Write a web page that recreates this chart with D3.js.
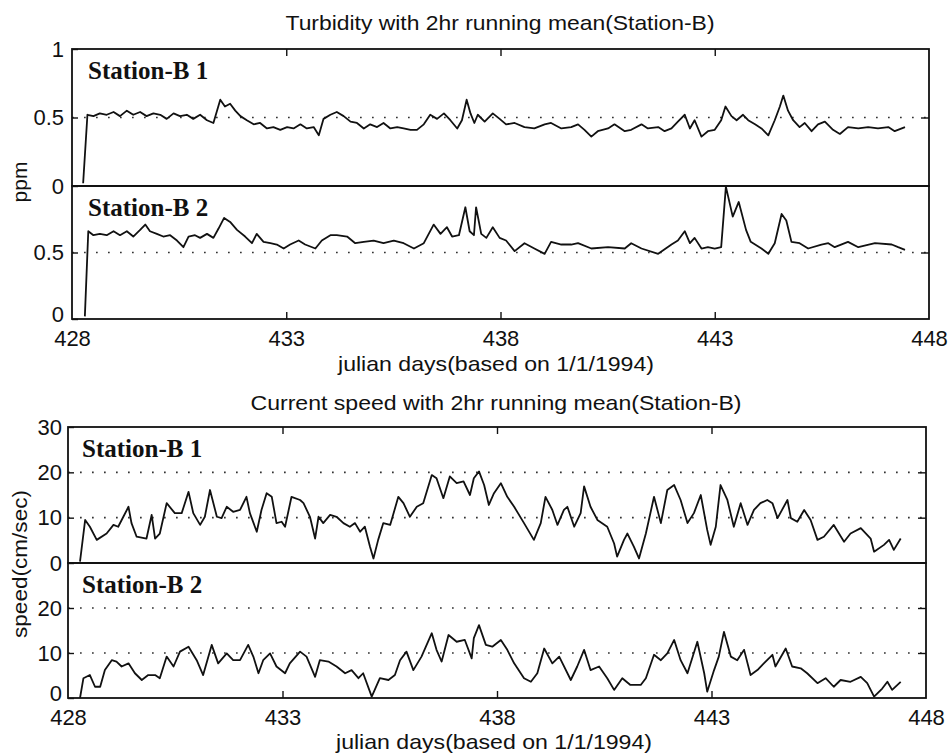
<!DOCTYPE html>
<html>
<head>
<meta charset="utf-8">
<script src="https://cdn.jsdelivr.net/npm/d3@7/dist/d3.min.js"></script>
<style>
  html, body { margin: 0; padding: 0; background: #fff; }
  svg { display: block; }
  .tick text { font-family: "Liberation Sans", Arial, sans-serif; fill: #111; }
</style>
</head>
<body>
<svg id="chart" width="948" height="754"></svg>
<script>
// Julian day axis (based on 1/1/1994)
const dayTicks = [428, 433, 438, 443, 448];
const turbTicks = [0, 0.5, 1];
const turbGrid = [0.5];
const speedTicks = [0, 10, 20, 30];
const speedGrid = [10, 20];

// Turbidity, 2 hr running mean [julian day, ppm]
const turbB1 = [
  [428.26,0.02],[428.36,0.52],[428.50,0.51],[428.65,0.53],[428.81,0.52],[428.97,0.54],[429.12,0.51],
  [429.28,0.55],[429.43,0.52],[429.59,0.54],[429.74,0.51],[429.90,0.53],[430.06,0.52],[430.21,0.49],
  [430.37,0.53],[430.52,0.51],[430.68,0.52],[430.83,0.49],[430.99,0.52],[431.15,0.48],[431.30,0.46],
  [431.46,0.63],[431.57,0.58],[431.69,0.60],[431.81,0.55],[431.93,0.51],[432.08,0.48],[432.24,0.45],
  [432.39,0.46],[432.55,0.42],[432.70,0.43],[432.86,0.41],[433.02,0.43],[433.17,0.42],[433.33,0.45],
  [433.48,0.42],[433.64,0.43],[433.76,0.37],[433.87,0.49],[434.03,0.52],[434.18,0.54],[434.34,0.51],
  [434.50,0.47],[434.65,0.46],[434.81,0.42],[434.96,0.45],[435.12,0.43],[435.27,0.46],[435.43,0.42],
  [435.59,0.43],[435.74,0.42],[435.90,0.41],[436.05,0.41],[436.21,0.45],[436.36,0.52],[436.52,0.49],
  [436.68,0.53],[436.83,0.48],[436.99,0.42],[437.10,0.48],[437.21,0.63],[437.30,0.53],[437.39,0.46],
  [437.47,0.52],[437.63,0.47],[437.82,0.53],[437.98,0.49],[438.13,0.45],[438.33,0.46],[438.56,0.43],
  [438.79,0.42],[439.03,0.45],[439.18,0.46],[439.42,0.42],[439.65,0.43],[439.81,0.45],[439.96,0.41],
  [440.12,0.36],[440.27,0.40],[440.51,0.42],[440.66,0.45],[440.90,0.40],[441.05,0.41],[441.29,0.45],
  [441.44,0.42],[441.68,0.43],[441.83,0.40],[441.99,0.42],[442.14,0.47],[442.30,0.52],[442.42,0.42],
  [442.53,0.48],[442.69,0.36],[442.84,0.40],[443.00,0.41],[443.15,0.48],[443.25,0.58],[443.39,0.51],
  [443.51,0.48],[443.66,0.52],[443.78,0.48],[443.94,0.45],[444.09,0.42],[444.25,0.37],[444.40,0.48],
  [444.52,0.58],[444.60,0.66],[444.71,0.55],[444.83,0.48],[444.98,0.43],[445.10,0.46],[445.26,0.40],
  [445.41,0.45],[445.57,0.47],[445.76,0.41],[445.92,0.38],[446.11,0.43],[446.35,0.42],[446.58,0.43],
  [446.81,0.42],[447.05,0.43],[447.20,0.40],[447.44,0.43]
];
const turbB2 = [
  [428.30,0.02],[428.38,0.66],[428.50,0.63],[428.65,0.64],[428.81,0.63],[428.97,0.66],[429.12,0.63],
  [429.28,0.66],[429.43,0.62],[429.59,0.67],[429.71,0.71],[429.82,0.66],[429.98,0.64],[430.13,0.62],
  [430.29,0.63],[430.45,0.59],[430.60,0.54],[430.72,0.62],[430.87,0.63],[430.99,0.61],[431.15,0.64],
  [431.30,0.61],[431.42,0.68],[431.55,0.76],[431.69,0.73],[431.85,0.67],[432.04,0.62],[432.20,0.57],
  [432.31,0.64],[432.47,0.58],[432.63,0.57],[432.78,0.56],[432.94,0.53],[433.09,0.56],[433.29,0.59],
  [433.44,0.56],[433.68,0.53],[433.83,0.59],[434.03,0.63],[434.18,0.63],[434.42,0.62],[434.61,0.57],
  [434.81,0.58],[435.04,0.59],[435.27,0.57],[435.51,0.59],[435.74,0.57],[435.98,0.53],[436.21,0.57],
  [436.44,0.71],[436.60,0.64],[436.75,0.69],[436.87,0.62],[437.03,0.63],[437.18,0.84],[437.28,0.66],
  [437.38,0.63],[437.43,0.84],[437.55,0.64],[437.67,0.61],[437.82,0.69],[437.98,0.61],[438.13,0.59],
  [438.33,0.51],[438.56,0.57],[438.79,0.53],[439.03,0.49],[439.18,0.58],[439.42,0.56],[439.65,0.56],
  [439.81,0.57],[440.12,0.53],[440.51,0.54],[440.90,0.53],[441.05,0.57],[441.29,0.53],[441.68,0.49],
  [441.99,0.56],[442.14,0.59],[442.30,0.66],[442.42,0.57],[442.53,0.61],[442.69,0.53],[442.84,0.54],
  [443.00,0.53],[443.15,0.54],[443.26,0.995],[443.42,0.77],[443.56,0.88],[443.73,0.67],[443.84,0.58],
  [444.09,0.53],[444.25,0.49],[444.40,0.57],[444.56,0.79],[444.67,0.74],[444.79,0.58],[444.98,0.57],
  [445.18,0.53],[445.49,0.56],[445.65,0.57],[445.80,0.54],[446.11,0.58],[446.35,0.54],[446.74,0.57],
  [447.13,0.56],[447.28,0.54],[447.44,0.52]
];

// Current speed, 2 hr running mean [julian day, cm/sec]
const speedB1 = [
  [428.28,0.3],[428.40,9.5],[428.51,8.0],[428.67,5.1],[428.90,6.5],[429.06,8.4],[429.17,8.0],
  [429.29,10.2],[429.41,12.4],[429.48,8.8],[429.60,5.8],[429.83,5.4],[429.95,10.6],[430.03,5.4],
  [430.14,6.5],[430.30,13.2],[430.49,11.0],[430.65,11.0],[430.81,15.7],[430.92,11.0],[431.08,8.4],
  [431.19,10.2],[431.31,16.1],[431.47,10.2],[431.58,9.9],[431.70,12.4],[431.85,11.3],[432.01,11.7],
  [432.16,14.6],[432.24,11.0],[432.40,6.9],[432.51,11.7],[432.63,15.4],[432.75,14.6],[432.86,8.8],
  [432.98,9.1],[433.06,8.0],[433.21,14.6],[433.41,13.9],[433.49,13.2],[433.64,10.2],[433.76,5.4],
  [433.84,10.2],[433.95,8.8],[434.11,10.6],[434.26,10.2],[434.42,8.8],[434.57,8.0],[434.69,8.8],
  [434.81,6.9],[434.92,8.0],[435.04,3.6],[435.12,1.0],[435.23,5.1],[435.35,8.8],[435.51,8.4],
  [435.70,14.6],[435.82,13.2],[435.97,10.2],[436.13,12.4],[436.28,13.2],[436.48,19.4],[436.59,18.7],
  [436.75,14.3],[436.90,19.1],[437.06,17.6],[437.22,18.0],[437.37,15.0],[437.46,18.7],[437.58,20.2],
  [437.70,17.2],[437.81,12.8],[437.93,15.4],[438.09,17.6],[438.24,14.6],[438.40,12.4],[438.63,8.8],
  [438.86,5.1],[439.02,8.8],[439.13,14.6],[439.29,11.7],[439.41,8.4],[439.56,11.7],[439.64,12.4],
  [439.80,8.0],[439.95,11.0],[440.03,16.9],[440.18,12.4],[440.34,9.5],[440.57,8.0],[440.73,4.3],
  [440.80,1.4],[440.96,5.1],[441.04,6.5],[441.19,3.6],[441.31,1.0],[441.47,6.5],[441.66,14.6],
  [441.82,8.8],[441.97,16.1],[442.13,17.2],[442.28,13.9],[442.44,8.8],[442.59,11.0],[442.75,15.0],
  [442.90,7.3],[442.98,4.0],[443.10,8.0],[443.21,17.2],[443.37,13.9],[443.52,8.0],[443.68,13.2],
  [443.84,8.4],[443.99,11.7],[444.14,13.2],[444.30,13.9],[444.42,13.2],[444.54,9.9],[444.77,13.9],
  [444.85,9.9],[445.00,9.1],[445.16,11.7],[445.31,9.5],[445.47,5.1],[445.62,5.8],[445.85,8.4],
  [446.09,4.7],[446.24,6.5],[446.48,7.7],[446.71,5.4],[446.79,2.5],[447.02,4.0],[447.14,5.1],
  [447.25,2.9],[447.41,5.4]
];
const speedB2 = [
  [428.28,0.0],[428.36,4.4],[428.51,5.1],[428.63,2.5],[428.75,2.5],[428.86,6.2],[429.02,8.4],
  [429.13,8.1],[429.25,7.0],[429.41,7.7],[429.56,5.5],[429.72,4.0],[429.87,5.1],[430.03,5.1],
  [430.14,4.4],[430.30,9.2],[430.46,7.0],[430.61,10.3],[430.81,11.4],[431.00,8.4],[431.15,5.1],
  [431.35,11.8],[431.50,7.7],[431.70,9.9],[431.85,8.4],[432.01,8.4],[432.20,11.8],[432.32,9.2],
  [432.44,5.5],[432.55,8.4],[432.71,9.9],[432.86,7.0],[433.06,5.5],[433.17,7.7],[433.41,10.3],
  [433.56,9.2],[433.76,4.7],[433.87,8.4],[434.07,8.1],[434.26,7.0],[434.46,5.5],[434.61,6.2],
  [434.77,4.4],[434.88,5.5],[435.08,0.3],[435.27,4.4],[435.47,4.0],[435.62,5.1],[435.74,8.4],
  [435.89,10.3],[436.05,6.2],[436.24,9.2],[436.48,14.4],[436.59,10.7],[436.71,8.1],[436.87,14.0],
  [437.06,12.5],[437.25,12.9],[437.41,8.8],[437.46,13.3],[437.58,16.2],[437.74,11.8],[437.89,11.4],
  [438.09,12.9],[438.24,10.7],[438.40,7.7],[438.63,4.4],[438.79,3.6],[438.94,5.5],[439.10,11.0],
  [439.29,7.7],[439.45,9.2],[439.72,4.0],[439.87,7.0],[440.03,10.7],[440.18,6.2],[440.38,7.0],
  [440.57,4.4],[440.73,1.8],[440.92,4.4],[441.11,2.9],[441.35,2.9],[441.47,4.4],[441.66,9.6],
  [441.82,8.4],[441.97,9.9],[442.13,12.9],[442.28,8.4],[442.44,5.5],[442.67,12.5],[442.83,5.5],
  [442.90,1.4],[443.06,6.2],[443.17,9.2],[443.29,14.7],[443.45,9.2],[443.60,8.4],[443.76,10.7],
  [443.91,5.1],[444.07,6.2],[444.22,7.7],[444.42,9.6],[444.49,7.0],[444.73,11.0],[444.88,7.0],
  [445.08,6.6],[445.23,5.5],[445.47,3.3],[445.66,4.4],[445.85,2.5],[446.01,4.0],[446.24,3.6],
  [446.48,4.7],[446.63,3.3],[446.79,0.3],[446.98,2.1],[447.10,3.6],[447.21,1.8],[447.41,3.6]
];

const SANS = '"Liberation Sans", Arial, Helvetica, sans-serif';
const SERIF = '"Liberation Serif", "Times New Roman", serif';
const INK = "#111";

const svg = d3.select("#chart");

// Plain text helper; an optional width stretches the glyphs to fill it
function label(sel, txt, opts) {
  const t = sel.append("text")
    .attr("text-anchor", "middle").attr("font-family", SANS)
    .attr("font-size", opts.size).attr("fill", INK)
    .attr("transform", opts.transform)
    .text(txt);
  if (opts.width) t.attr("textLength", opts.width).attr("lengthAdjust", "spacingAndGlyphs");
  return t;
}

// One stacked figure: two panels sharing the day axis
function drawFigure(cfg) {
  const x = d3.scaleLinear().domain([428, 448]).range([cfg.left, cfg.right]);
  const g = svg.append("g");

  cfg.panels.forEach((p, i) => {
    const y = d3.scaleLinear().domain(cfg.yDomain).range([p.bottom, p.top]);
    const pg = g.append("g");

    // dotted reference lines
    pg.selectAll("line.grid").data(cfg.grid).join("line")
      .attr("x1", cfg.left).attr("x2", cfg.right)
      .attr("y1", d => y(d)).attr("y2", d => y(d))
      .attr("stroke", "#333").attr("stroke-width", 1.7)
      .attr("stroke-dasharray", "1.7 10.3")
      .attr("stroke-linecap", "butt");

    // left axis: inward ticks + labels
    const la = pg.append("g").attr("transform", `translate(${cfg.left},0)`)
      .call(d3.axisLeft(y).tickValues(p.labels).tickSize(-6).tickPadding(cfg.yPad)
        .tickFormat(d => d3.format("")(d)));
    la.select(".domain").remove();
    la.selectAll(".tick line").attr("stroke", INK).attr("stroke-width", 1.4);
    la.selectAll(".tick text").attr("font-size", cfg.fontSize).attr("fill", INK)
      .attr("dy", d => (i === 1 && d === 0) ? "0.1em" : "0.32em");

    // right axis: inward ticks only
    const ra = pg.append("g").attr("transform", `translate(${cfg.right},0)`)
      .call(d3.axisRight(y).tickValues(cfg.grid).tickSize(-8).tickFormat(""));
    ra.select(".domain").remove();
    ra.selectAll(".tick line").attr("stroke", INK).attr("stroke-width", 1.4);

    // data trace
    const line = d3.line().x(d => x(d[0])).y(d => y(d[1]));
    pg.append("path").datum(p.data)
      .attr("d", line)
      .attr("fill", "none").attr("stroke", INK)
      .attr("stroke-width", 1.8).attr("stroke-linejoin", "round");

    // panel frame
    pg.append("rect")
      .attr("x", cfg.left).attr("y", p.top)
      .attr("width", cfg.right - cfg.left).attr("height", p.bottom - p.top)
      .attr("fill", "none").attr("stroke", INK).attr("stroke-width", 1.8);

    // station label
    pg.append("text")
      .attr("x", cfg.left + cfg.labelDx).attr("y", p.top + cfg.labelDy)
      .attr("font-family", SERIF).attr("font-weight", "bold")
      .attr("font-size", 25).attr("fill", INK)
      .text(p.name);
  });

  const top = cfg.panels[0].top;
  const bottom = cfg.panels[1].bottom;

  // inward day ticks on the top frame
  const ta = g.append("g").attr("transform", `translate(0,${top})`)
    .call(d3.axisTop(x).tickValues(dayTicks.slice(1, -1)).tickSize(-7).tickFormat(""));
  ta.select(".domain").remove();
  ta.selectAll(".tick line").attr("stroke", INK).attr("stroke-width", 1.4);

  // bottom day axis with labels
  const ba = g.append("g").attr("transform", `translate(0,${bottom})`)
    .call(d3.axisBottom(x).tickValues(dayTicks).tickSize(-7).tickPadding(cfg.xPad));
  ba.select(".domain").remove();
  ba.selectAll(".tick line").attr("stroke", INK).attr("stroke-width", 1.4)
    .filter(d => d === 428 || d === 448).remove();
  ba.selectAll(".tick text").attr("font-size", cfg.fontSize).attr("fill", INK);

  // titles
  label(g, cfg.title, { size: cfg.titleSize, width: cfg.titleW,
    transform: `translate(${cfg.titleX},${cfg.titleY})` });
  label(g, "julian days(based on 1/1/1994)", { size: cfg.titleSize, width: 316,
    transform: `translate(${cfg.xLabelX},${cfg.xLabelY})` });
  label(g, cfg.yLabel, { size: cfg.titleSize, width: cfg.yLabelW,
    transform: `translate(${cfg.yLabelX},${cfg.yLabelY}) rotate(-90)` });
}

drawFigure({
  left: 72, right: 929,
  yDomain: [0, 1], grid: turbGrid,
  fontSize: 22, titleSize: 21, yPad: 8, xPad: 11.5,
  labelDx: 16, labelDy: 30,
  title: "Turbidity with 2hr running mean(Station-B)", titleW: 429,
  titleX: 500, titleY: 30, xLabelX: 496, xLabelY: 371,
  yLabel: "ppm", yLabelX: 27, yLabelY: 182,
  panels: [
    { name: "Station-B 1", top: 49, bottom: 186, data: turbB1, labels: turbTicks },
    { name: "Station-B 2", top: 186, bottom: 319, data: turbB2, labels: [0, 0.5] }
  ]
});

drawFigure({
  left: 68, right: 926,
  yDomain: [0, 30], grid: speedGrid,
  fontSize: 22, titleSize: 21, yPad: 6, xPad: 11.5,
  labelDx: 14, labelDy: 30,
  title: "Current speed with 2hr running mean(Station-B)", titleW: 491,
  titleX: 496, titleY: 410, xLabelX: 494, xLabelY: 749,
  yLabel: "speed(cm/sec)", yLabelW: 148, yLabelX: 27, yLabelY: 564,
  panels: [
    { name: "Station-B 1", top: 427, bottom: 563, data: speedB1, labels: speedTicks },
    { name: "Station-B 2", top: 563, bottom: 698, data: speedB2, labels: [0, 10, 20] }
  ]
});
</script>
</body>
</html>
